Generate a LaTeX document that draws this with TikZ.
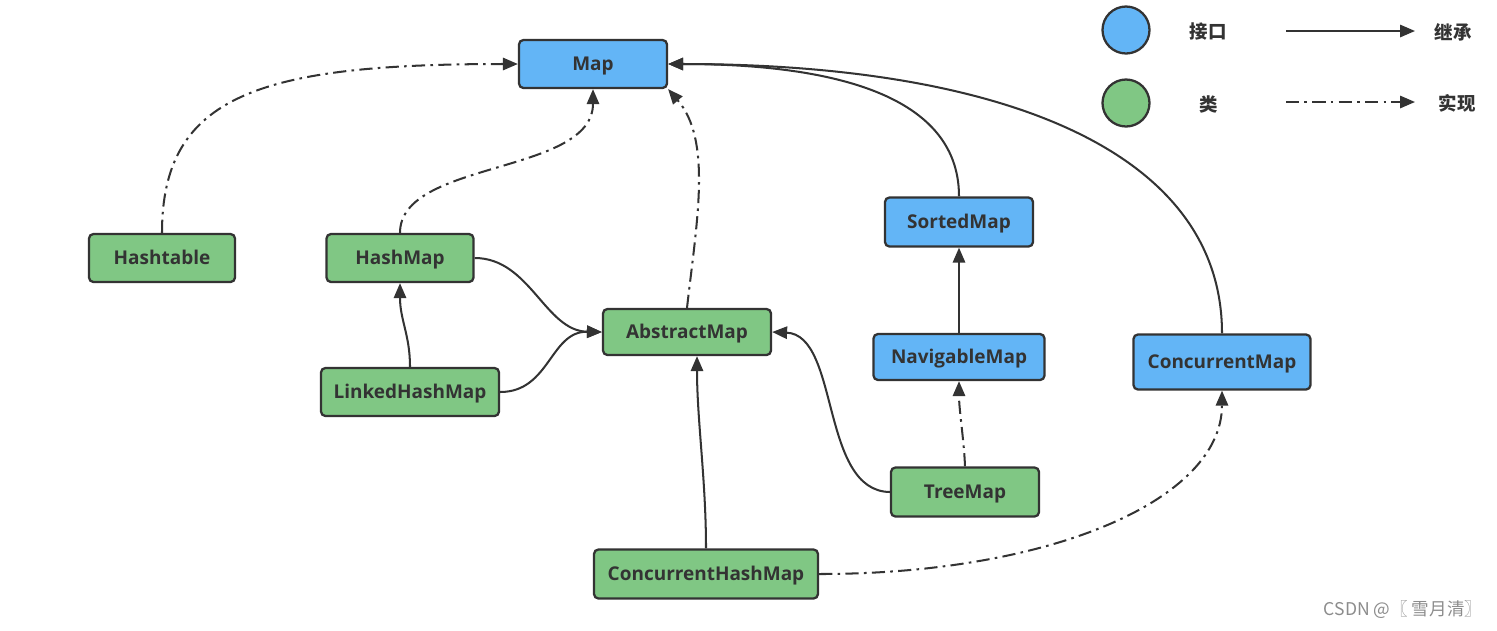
\documentclass[tikz,border=0pt]{standalone}
\usepackage{fontspec}
\setmainfont{Open Sans}
\newfontfamily\cjk{Noto Sans CJK SC}
\usetikzlibrary{arrows.meta}
\definecolor{ifc}{RGB}{99,181,246}
\definecolor{clc}{RGB}{128,199,132}
\definecolor{ln}{RGB}{51,51,51}
\begin{document}
\begin{tikzpicture}[x=0.02cm,y=-0.02cm,
  box/.style={draw=ln, line width=1.3pt, rounded corners=2.5pt, minimum height=0.96cm,
    font=\fontsize{10.8}{13}\selectfont\bfseries, text=ln, inner sep=0pt,
    text height=0.72em, text depth=0pt},
  iface/.style={box, fill=ifc},
  cls/.style={box, fill=clc},
  inh/.style={draw=ln, line width=1.15pt, -{Triangle[length=8.5pt,width=7pt]}},
  impl/.style={inh, dash pattern=on 7.5pt off 3pt on 1.5pt off 3pt},
  leg/.style={font=\cjk\fontsize{10.5}{12}\selectfont\bfseries, text=ln},
  dot/.style={circle, draw=ln, line width=1.3pt, minimum size=0.94cm, inner sep=0pt}
]
\useasboundingbox (0,0) rectangle (1497,630);
% nodes
\node[iface, minimum width=2.96cm] (map) at (593,64) {Map};
\node[cls, minimum width=2.92cm] (hashtable) at (162,258) {Hashtable};
\node[cls, minimum width=2.94cm] (hashmap) at (400,258) {HashMap};
\node[cls, minimum width=3.36cm, minimum height=0.92cm] (abstract) at (687,332) {AbstractMap};
\node[cls, minimum width=3.56cm] (linked) at (410,392) {LinkedHashMap};
\node[iface, minimum width=2.96cm, minimum height=0.98cm] (sorted) at (959,222) {SortedMap};
\node[iface, minimum width=3.42cm, minimum height=0.92cm] (navigable) at (959,357) {NavigableMap};
\node[iface, minimum width=3.54cm, minimum height=1.1cm] (concmap) at (1222,362) {ConcurrentMap};
\node[cls, minimum width=2.96cm, minimum height=0.98cm] (treemap) at (965,492) {TreeMap};
\node[cls, minimum width=4.48cm, minimum height=0.98cm] (chm) at (706,574) {ConcurrentHashMap};
% connectors
\draw[impl] (hashtable.north) .. controls (162,95) and (260,64) .. (map.west);
\draw[impl] (hashmap.north) .. controls (400,160) and (593,175) .. (map.south);
\draw[impl] (abstract.north) .. controls (697,220) and (712,140) .. (map.south east);
\draw[inh] (sorted.north) .. controls (959,90) and (820,64) .. (map.east);
\draw[inh] (concmap.north) .. controls (1222,150) and (1000,64) .. (map.east);
\draw[inh] (hashmap.east) .. controls (530,258) and (545,331) .. (abstract.west);
\draw[inh] (linked.east) .. controls (550,392) and (550,331) .. (abstract.west);
\draw[inh] (linked.north) .. controls (410,335) and (400,320) .. (hashmap.south);
\draw[inh] (treemap.west) .. controls (820,491) and (840,335) .. (abstract.east);
\draw[inh] (navigable.north) -- (sorted.south);
\draw[impl] (treemap.north) .. controls (964,440) and (959,410) .. (navigable.south);
\draw[inh] (chm.north) .. controls (706,480) and (697,420) .. ([xshift=0.2cm]abstract.south);
\draw[impl] (chm.east) .. controls (1050,574) and (1222,500) .. (concmap.south);
% legend
\node[dot, fill=ifc] (d1) at (1126,30) {};
\node[dot, fill=clc] (d2) at (1126,103) {};
\node[leg] (t1) at (1208,32) {接口};
\node[leg] (t2) at (1209,104) {类};
\coordinate (a1) at (1286,31);
\coordinate (b1) at (1415,31);
\coordinate (a2) at (1286,102);
\coordinate (b2) at (1415,102);
\draw[inh] (a1) -- (b1);
\draw[impl] (a2) -- (b2);
\node[leg] (t3) at (1453,32) {继承};
\node[leg] (t4) at (1457,103) {实现};
\node[font=\cjk\fontsize{10}{12}\selectfont, text=black!45] (wm) at (1403,610) {CSDN @〖 雪月清〗};
\end{tikzpicture}
\end{document}
